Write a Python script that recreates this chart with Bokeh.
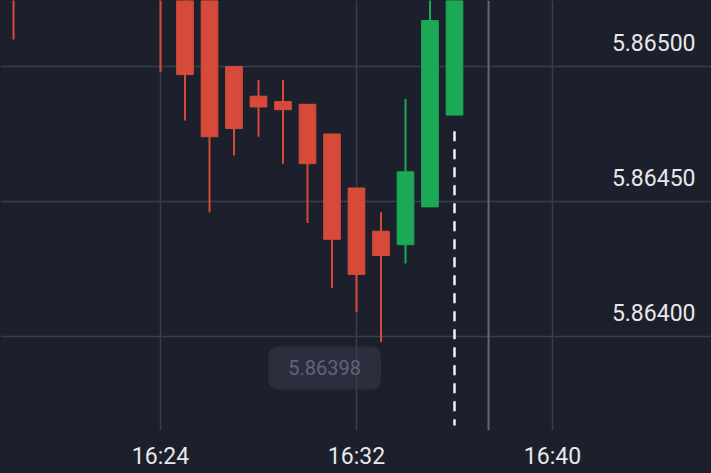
from bokeh.plotting import figure
from bokeh.models import Range1d, FixedTicker, Grid, Span, Label, ColumnDataSource, CDSView, BooleanFilter
from bokeh.core.properties import value
from bokeh.embed import file_html
from bokeh.resources import INLINE

# ---- data ----
times = ["16:18", "16:24", "16:25", "16:26", "16:27", "16:28", "16:29", "16:30",
         "16:31", "16:32", "16:33", "16:34", "16:35", "16:36"]
opens = [5.86580, 5.86585, 5.86532, 5.86528, 5.86500, 5.86489, 5.86487, 5.86486,
         5.86475, 5.86455, 5.86439, 5.86434, 5.86448, 5.86482]
highs = [5.86590, 5.86590, 5.86536, 5.86530, 5.86500, 5.86495, 5.86495, 5.86486,
         5.86475, 5.86455, 5.86446, 5.86488, 5.86530, 5.86545]
lows = [5.86510, 5.86498, 5.86480, 5.86446, 5.86467, 5.86474, 5.86464, 5.86442,
        5.86418, 5.86409, 5.86398, 5.86427, 5.86448, 5.86482]
closes = [5.86570, 5.86570, 5.86497, 5.86474, 5.86477, 5.86485, 5.86484, 5.86464,
          5.86436, 5.86423, 5.86430, 5.86461, 5.86517, 5.86540]

x_tick_labels = ["16:24", "16:32", "16:40"]
y_ticks = [5.86400, 5.86450, 5.86500]
y_tick_labels = ["5.86400", "5.86450", "5.86500"]

marker_time = "16:36"          # dashed marker
marker_top = 5.86476
marker_bottom = 5.86367
now_line_time = 997.39         # minutes since midnight (about 16:37:23)
low_label = "5.86398"

# ---- styling ----
BG = "#1c1f2c"
GRID = "#393d4d"
RED = "#d54a39"
GREEN = "#1ca955"
FONT = "Roboto"


def to_min(t):
    h, m = t.split(":")
    return int(h) * 60 + int(m)


x_start, x_end = 977.4694, 1006.4898
y_start, y_end = 5.8636519, 5.8652444

xs = [to_min(t) for t in times]
colors = [GREEN if c >= o else RED for o, c in zip(opens, closes)]
tops = [max(o, c) for o, c in zip(opens, closes)]
bottoms = [min(o, c) for o, c in zip(opens, closes)]
src = ColumnDataSource(dict(
    x=xs, open=opens, high=highs, low=lows, close=closes,
    top=tops, bottom=bottoms, color=colors,
))
body_view = CDSView(filter=BooleanFilter([b < y_end for b in bottoms]))

p = figure(width=711, height=473, output_backend="svg",
           toolbar_location=None, y_axis_location=None,
           x_range=Range1d(x_start, x_end), y_range=Range1d(y_start, y_end),
           min_border=0, min_border_left=0, min_border_right=0, min_border_top=0,
           min_border_bottom=43)
p.background_fill_color = BG
p.border_fill_color = BG
p.outline_line_color = None

# x axis
xticks = [to_min(t) for t in x_tick_labels]
p.xaxis.ticker = FixedTicker(ticks=xticks)
p.xaxis.major_label_overrides = {tk: lb for tk, lb in zip(xticks, x_tick_labels)}
p.xaxis.axis_line_color = None
p.xaxis.major_tick_line_color = None
p.xaxis.minor_tick_line_color = None
p.xaxis.major_label_text_font = FONT
p.xaxis.major_label_text_font_size = "23px"
p.xaxis.major_label_text_color = "#e8e8ea"
p.xaxis.major_label_standoff = 6
p.xgrid.grid_line_color = GRID
p.xgrid.grid_line_width = 1.5

# y grid
ygrids = [r for r in p.center if isinstance(r, Grid) and r.dimension == 1]
if not ygrids:
    g = Grid(dimension=1)
    p.add_layout(g)
    ygrids = [g]
for g in ygrids:
    g.ticker = FixedTicker(ticks=y_ticks)
    g.grid_line_color = GRID
    g.grid_line_width = 1.5

# now line
p.add_layout(Span(location=now_line_time, dimension="height", line_color="#62667a", line_width=2))

# candles
p.segment(x0="x", y0="high", x1="x", y1="low", line_color="color", line_width=2, source=src)
p.vbar(x="x", width=0.68, top="top", bottom="bottom", fill_color="color", line_color="color",
       source=src, view=body_view)

# dashed marker
p.segment(x0=[to_min(marker_time)], y0=[marker_top], x1=[to_min(marker_time)], y1=[marker_bottom],
          line_color="#f0f0f0", line_width=2.5, line_dash="10 8")

# y tick labels (drawn inside the frame, above their grid lines)
p.text(x=[x_end] * len(y_ticks), y=y_ticks, text=y_tick_labels,
       x_offset=-16, y_offset=-24, text_align="right", text_baseline="middle",
       text_font=value(FONT), text_font_size="23px", text_color="#e8e8ea")

# low price label
i_low = lows.index(min(lows))
p.add_layout(Label(x=xs[i_low], y=lows[i_low], x_offset=0, y_offset=-26,
                   text=low_label, text_align="right", text_baseline="middle",
                   text_font=FONT, text_font_size="20px", text_color="#60647a",
                   background_fill_color="#3b3e50", background_fill_alpha=0.5,
                   padding=dict(left=20, right=20, top=14, bottom=14), border_radius=9))

html = file_html(p, INLINE)
html = html.replace("<head>", "<head><style>html,body{background:%s;margin:0;padding:0;overflow:hidden;}</style>" % BG, 1)
open("out.html", "w").write(html)
